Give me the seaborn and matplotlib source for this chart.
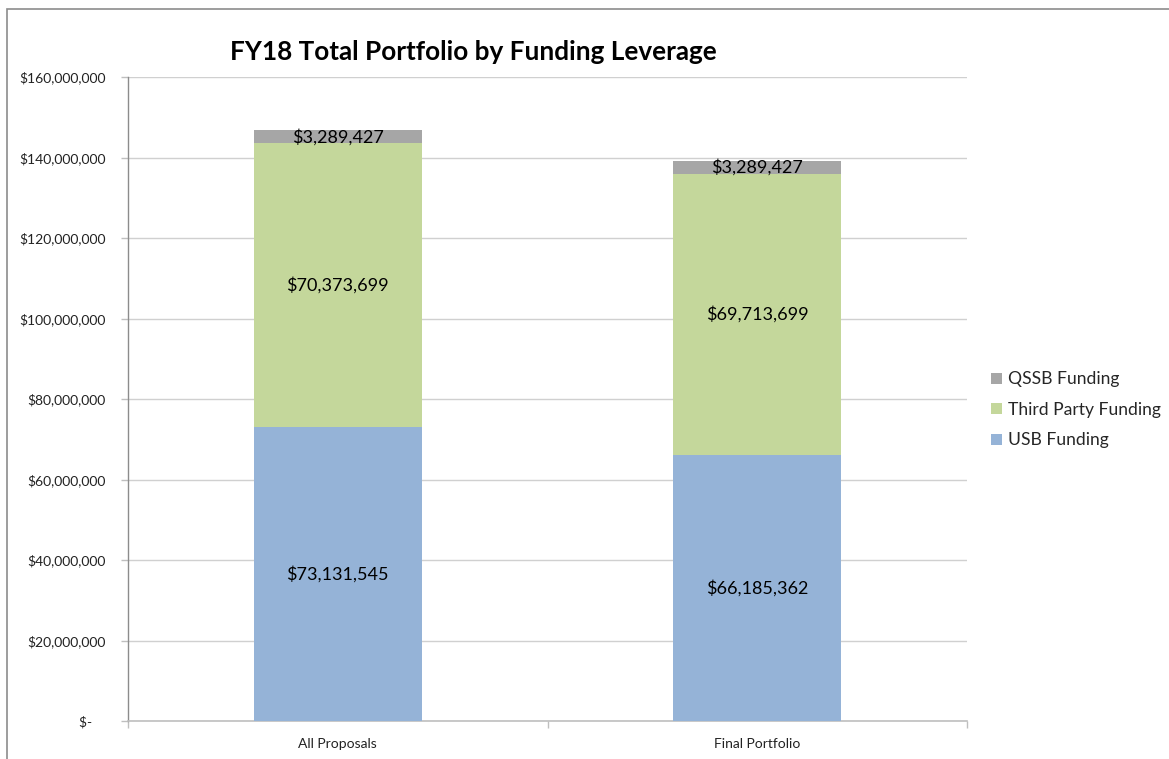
import numpy as np
import pandas as pd
import matplotlib
matplotlib.use("Agg")
import matplotlib.pyplot as plt
import seaborn as sns
from matplotlib.patches import Rectangle
from matplotlib.ticker import FuncFormatter, FixedLocator

# Dati
categorie = ["All Proposals", "Final Portfolio"]
usb = [73131545, 66185362]
third_party = [70373699, 69713699]
qssb = [3289427, 3289427]
serie = ["QSSB Funding", "Third Party Funding", "USB Funding"]
colori = {"QSSB Funding": "#A6A6A6", "Third Party Funding": "#C4D79B", "USB Funding": "#95B3D7"}

sns.set_theme(style="white")
plt.rcParams["font.family"] = ["Lato", "DejaVu Sans"]

df = pd.DataFrame({"categoria": categorie, "USB Funding": usb,
                   "Third Party Funding": third_party, "QSSB Funding": qssb})
df["cum_usb"] = df["USB Funding"]
df["cum_third"] = df["cum_usb"] + df["Third Party Funding"]
df["cum_qssb"] = df["cum_third"] + df["QSSB Funding"]

fig = plt.figure(figsize=(11.69, 7.59), dpi=100)
ax = fig.add_axes([128 / 1169, 38 / 759, (967 - 128) / 1169, (721 - 77) / 759])

# Barre impilate: si disegna dal totale verso il basso
for col, nome in [("cum_qssb", "QSSB Funding"), ("cum_third", "Third Party Funding"),
                  ("cum_usb", "USB Funding")]:
    sns.barplot(data=df, x="categoria", y=col, color=colori[nome], width=0.4,
                label=nome, ax=ax, saturation=1, linewidth=0, zorder=3)

# Etichette al centro di ciascun segmento
for i, r in df.iterrows():
    segs = [(0, r["cum_usb"], r["USB Funding"]),
            (r["cum_usb"], r["cum_third"], r["Third Party Funding"]),
            (r["cum_third"], r["cum_qssb"], r["QSSB Funding"])]
    for lo, hi, val in segs:
        ax.text(i, (lo + hi) / 2, f"${val:,.0f}", ha="center", va="center",
                fontsize=13, color="black", zorder=5)

ax.set_ylim(0, 160_000_000)
ax.set_xlim(-0.5, 1.5)
ax.set_yticks(np.arange(0, 160_000_001, 20_000_000))
ax.yaxis.set_major_formatter(FuncFormatter(lambda v, p: "$-    " if v == 0 else f"${v:,.0f}"))
ax.grid(axis="y", color="#D0D0D0", linewidth=1, zorder=0)
ax.set_axisbelow(True)
ax.set_xlabel("")
ax.set_ylabel("")

for s in ["top", "right"]:
    ax.spines[s].set_visible(False)
ax.spines["left"].set_color("#8C8C8C")
ax.spines["bottom"].set_color("#BFBFBF")
ax.spines["left"].set_linewidth(1)
ax.spines["bottom"].set_linewidth(1.2)

ax.tick_params(axis="y", length=5, width=1, color="#BFBFBF", labelsize=10,
               labelcolor="#222222", pad=11, left=True)
ax.tick_params(axis="x", which="major", length=0, labelsize=10, labelcolor="#222222", pad=12)
ax.xaxis.set_minor_locator(FixedLocator([-0.5, 0.5, 1.5]))
ax.tick_params(axis="x", which="minor", length=5, width=1, color="#BFBFBF", bottom=True)

# Legenda a destra
h, l = ax.get_legend_handles_labels()
leg = ax.legend(h, l, loc="center left", bbox_to_anchor=(1.01, 0.483), frameon=False,
                fontsize=12.6, handlelength=0.6, handleheight=0.6, handletextpad=0.35,
                labelspacing=0.83)

fig.text(473 / 1169, 1 - 52 / 759, "FY18 Total Portfolio by Funding Leverage",
         ha="center", va="center", fontsize=18.8, fontweight="bold", color="black")

# Bordo dell'area del grafico
fig.patches.append(Rectangle((7 / 1169, -0.1), 1.2, 1 - 9 / 759 + 0.1,
                             transform=fig.transFigure, fill=False,
                             edgecolor="#8C8C8C", linewidth=1.2, clip_on=False))

fig.savefig("out.png", dpi=100)
